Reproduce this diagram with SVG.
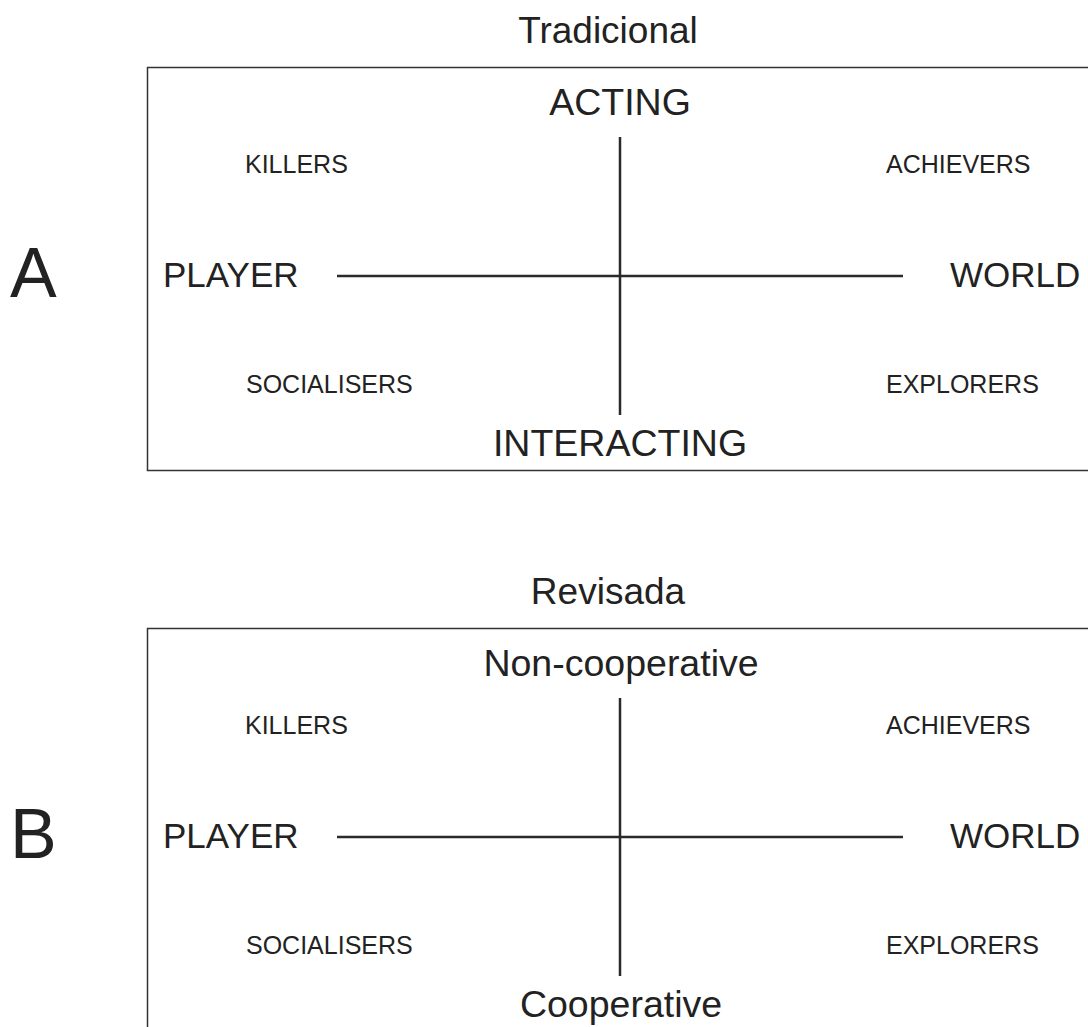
<svg xmlns="http://www.w3.org/2000/svg" width="1088" height="1027" viewBox="0 0 1088 1027">
<style>
text { font-family: "Liberation Sans", Arial, sans-serif; fill: #222; }
.title { font-size: 37px; text-anchor: middle; }
.axis { font-size: 37.5px; text-anchor: middle; }
.side { font-size: 35px; }
.type { font-size: 25px; }
.letter { font-size: 70px; }
.box { fill: none; stroke: #333; stroke-width: 1.5; }
.line { stroke: #2a2a2a; stroke-width: 2.5; }
</style>
<rect width="1088" height="1027" fill="#fff"/>
<g id="panelA">
  <text class="title" x="608" y="43">Tradicional</text>
  <rect class="box" x="147.5" y="67.5" width="960" height="403"/>
  <text class="letter" x="10" y="297">A</text>
  <g id="A-acting"><text class="axis" x="620" y="115">ACTING</text></g>
  <g id="A-interacting"><text class="axis" x="620" y="456">INTERACTING</text></g>
  <g id="A-player"><text class="side" x="163" y="287">PLAYER</text></g>
  <g id="A-world"><text class="side" x="950" y="287">WORLD</text></g>
  <g id="A-killers"><text class="type" x="245" y="173">KILLERS</text></g>
  <g id="A-achievers"><text class="type" x="886" y="173">ACHIEVERS</text></g>
  <g id="A-socialisers"><text class="type" x="246" y="393">SOCIALISERS</text></g>
  <g id="A-explorers"><text class="type" x="886" y="393">EXPLORERS</text></g>
</g>
<g id="panelB">
  <text class="title" x="608" y="604">Revisada</text>
  <rect class="box" x="147.5" y="628.5" width="960" height="420"/>
  <text class="letter" x="10" y="858">B</text>
  <g id="B-noncoop"><text class="axis" x="621" y="676">Non-cooperative</text></g>
  <g id="B-coop"><text class="axis" x="621" y="1017">Cooperative</text></g>
  <g id="B-player"><text class="side" x="163" y="848">PLAYER</text></g>
  <g id="B-world"><text class="side" x="950" y="848">WORLD</text></g>
  <g id="B-killers"><text class="type" x="245" y="734">KILLERS</text></g>
  <g id="B-achievers"><text class="type" x="886" y="734">ACHIEVERS</text></g>
  <g id="B-socialisers"><text class="type" x="246" y="954">SOCIALISERS</text></g>
  <g id="B-explorers"><text class="type" x="886" y="954">EXPLORERS</text></g>
</g>
<g id="connectors">
  <line class="line" x1="620" y1="137" x2="620" y2="415"/>
  <line class="line" x1="337" y1="276" x2="903" y2="276"/>
  <line class="line" x1="620" y1="698" x2="620" y2="976"/>
  <line class="line" x1="337" y1="837" x2="903" y2="837"/>
</g>
</svg>
